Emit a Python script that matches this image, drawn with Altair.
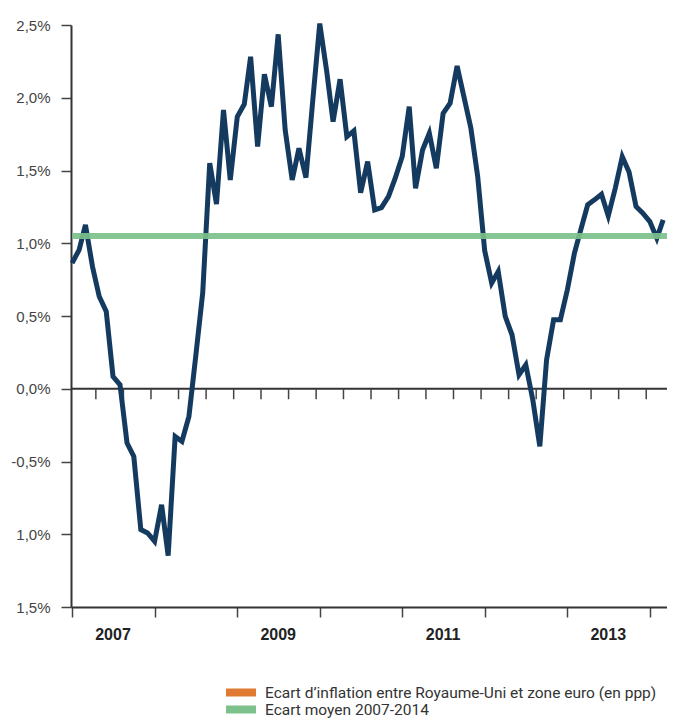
import altair as alt
import pandas as pd

# Monthly inflation gap UK vs euro area (in ppp), Jan 2007 -> Mar 2014
values = [0.863, 0.955, 1.126, 0.84, 0.634, 0.531, 0.084, 0.027, -0.373, -0.465,
          -0.968, -0.991, -1.049, -0.797, -1.147, -0.328, -0.362, -0.19, 0.222, 0.659,
          1.55, 1.27, 1.916, 1.435, 1.87, 1.955, 2.282, 1.664, 2.161, 1.939,
          2.436, 1.779, 1.435, 1.653, 1.451, 1.98, 2.51, 2.18, 1.836, 2.127,
          1.733, 1.772, 1.348, 1.561, 1.229, 1.245, 1.321, 1.447, 1.596, 1.939,
          1.378, 1.641, 1.756, 1.516, 1.893, 1.962, 2.218, 2.008, 1.79, 1.46,
          0.95, 0.726, 0.806, 0.497, 0.371, 0.096, 0.165, -0.076, -0.396, 0.199,
          0.474, 0.474, 0.68, 0.93, 1.09, 1.264, 1.298, 1.337, 1.188, 1.378,
          1.595, 1.49, 1.252, 1.207, 1.149, 1.035, 1.161]
start_month = "2007-01-01"

mean_gap = [1.05]
mean_span = ["2007-01-01", "2014-03-22"]

y_ticks = [-1.5, -1.0, -0.5, 0.0, 0.5, 1.0, 1.5, 2.0, 2.5]
y_tick_labels = ["1,5%", "1,0%", "-0,5%", "0,0%", "0,5%", "1,0%", "1,5%", "2,0%", "2,5%"]

year_labels = ["2007", "2009", "2011", "2013"]
year_label_dates = ["2007-07-01", "2009-07-01", "2011-07-01", "2013-07-01"]
year_tick_years = [2007, 2008, 2009, 2010, 2011, 2012, 2013, 2014]

legend_labels = ["Ecart d\u2019inflation entre Royaume-Uni et zone euro (en ppp)",
                 "Ecart moyen 2007-2014"]
legend_colors = ["#de7a31", "#7cc08b"]

LINE_COLOR = "#143b5f"
W, H = 596, 582

dates = pd.date_range(start_month, periods=len(values), freq="MS").strftime("%Y-%m-%d")
df = pd.DataFrame({"date": dates, "v": values})

# small ticks on the zero line, every 4 months (between months)
zt = pd.date_range("2007-04-01", periods=21, freq="4MS")
zero_ticks = pd.DataFrame({"d": [d.replace(day=16).strftime("%Y-%m-%d") for d in zt]})

x_scale = alt.Scale(type="utc", domain=[
    alt.DateTime(year=2006, month=12, date=27, utc=True),
    alt.DateTime(year=2014, month=3, date=18, utc=True)])
y_scale = alt.Scale(domain=[-1.5, 2.5], nice=False, zero=False)

label_expr = " : ".join(
    f"datum.value == {v} ? '{l}'" for v, l in zip(y_ticks, y_tick_labels)) + " : ''"

x_axis = alt.Axis(values=[alt.DateTime(year=y, month=1, date=1, utc=True) for y in year_tick_years],
                  labels=False, title=None, grid=False, domainColor="#333", domainWidth=2,
                  tickColor="#444", tickWidth=1.5, tickSize=10)
y_axis = alt.Axis(values=y_ticks, labelExpr=label_expr, title=None, grid=False,
                  domainColor="#333", domainWidth=2, tickColor="#444", tickWidth=1.5,
                  tickSize=10, labelPadding=11, labelFont="Liberation Sans",
                  labelFontSize=15, labelColor="#444")

base_line = alt.Chart(df).mark_line(color=LINE_COLOR, strokeWidth=5).encode(
    x=alt.X("date:T", scale=x_scale, axis=x_axis, title=None),
    y=alt.Y("v:Q", scale=y_scale, axis=y_axis, title=None),
)

zero_rule = alt.Chart(pd.DataFrame({"z": [0.0]})).mark_rule(color="#333", strokeWidth=2).encode(
    y=alt.Y("z:Q", scale=y_scale))

zero_tick_marks = alt.Chart(zero_ticks).mark_rule(color="#444", strokeWidth=1.5).encode(
    x=alt.X("d:T", scale=x_scale),
    y=alt.datum(0),
    y2=alt.datum(-0.072),
)

mean_df = pd.DataFrame({"m": mean_gap, "a": [mean_span[0]], "b": [mean_span[1]]})
mean_rule = alt.Chart(mean_df).mark_rule(
    color=legend_colors[1], strokeWidth=6, opacity=0.92).encode(
    y=alt.Y("m:Q", scale=y_scale),
    x=alt.X("a:T", scale=x_scale),
    x2="b:T",
)

years = alt.Chart(pd.DataFrame({"d": year_label_dates, "t": year_labels})).mark_text(
    font="Liberation Sans", fontSize=16, fontWeight="bold", color="#222", baseline="middle"
).encode(x=alt.X("d:T", scale=x_scale), y=alt.value(H + 28), text="t:N")

leg_df = pd.DataFrame({"t": legend_labels, "c": legend_colors})
leg_rect0 = alt.Chart(leg_df.iloc[[0]]).mark_rect(color=legend_colors[0]).encode(
    x=alt.value(155), x2=alt.value(185), y=alt.value(663.5), y2=alt.value(671.5))
leg_rect1 = alt.Chart(leg_df.iloc[[1]]).mark_rect(color=legend_colors[1]).encode(
    x=alt.value(155), x2=alt.value(185), y=alt.value(680.5), y2=alt.value(688.5))
leg_text0 = alt.Chart(leg_df.iloc[[0]]).mark_text(
    font="Roboto", fontSize=15.5, color="#333", align="left", baseline="alphabetic"
).encode(x=alt.value(194), y=alt.value(673), text="t:N")
leg_text1 = alt.Chart(leg_df.iloc[[1]]).mark_text(
    font="Roboto", fontSize=15.5, color="#333", align="left", baseline="alphabetic"
).encode(x=alt.value(194), y=alt.value(690), text="t:N")

chart = alt.layer(
    zero_rule, zero_tick_marks, base_line, mean_rule, years,
    leg_rect0, leg_rect1, leg_text0, leg_text1
).properties(
    width=W, height=H,
    autosize=alt.AutoSizeParams(type="none"),
    padding={"left": 63, "top": 17, "right": 0, "bottom": 113},
).configure_view(stroke=None)

chart.save("out.html", embed_options={"renderer": "svg", "actions": False})
